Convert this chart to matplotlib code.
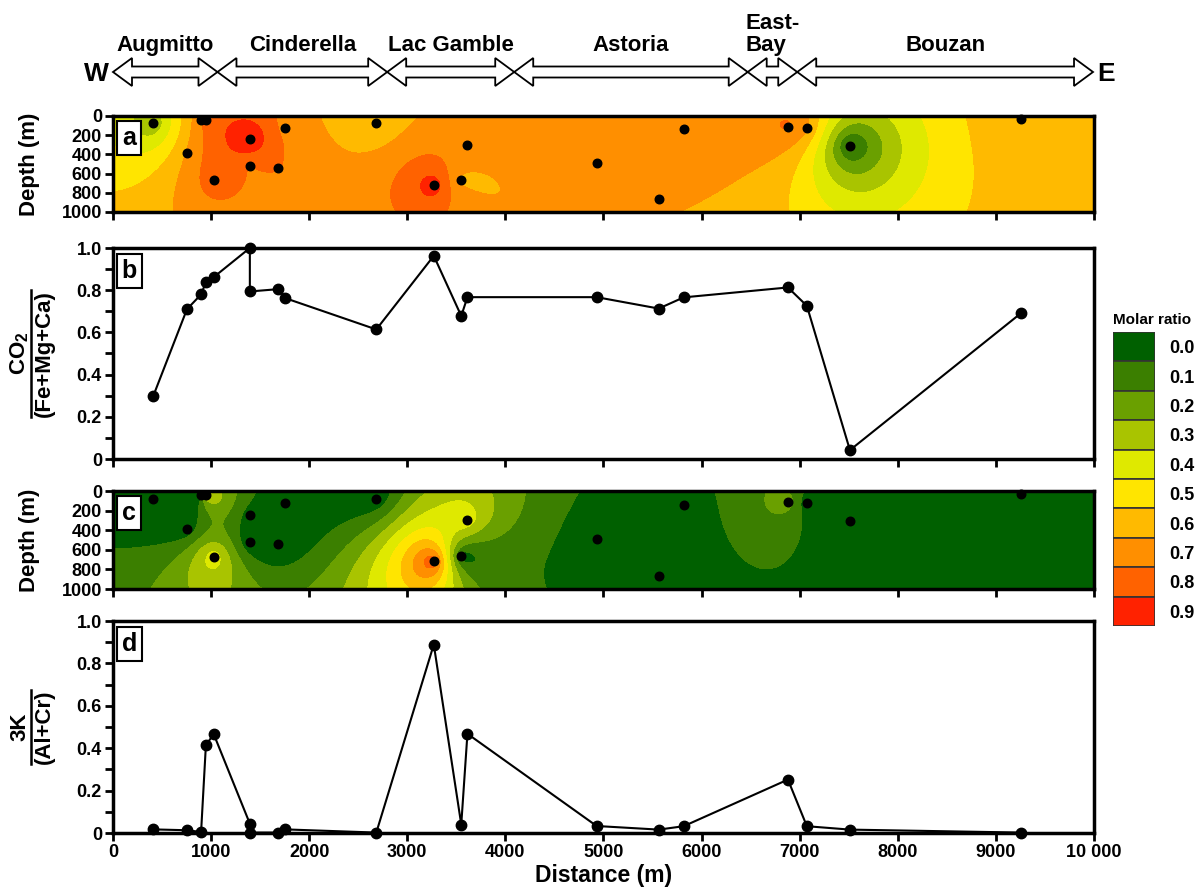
import numpy as np
import matplotlib
matplotlib.use("Agg")
import matplotlib.pyplot as plt
from matplotlib.patches import Polygon
from matplotlib.lines import Line2D

plt.rcParams['font.family'] = ['Liberation Sans', 'DejaVu Sans']
plt.rcParams['font.weight'] = 'bold'
plt.rcParams['mathtext.fontset'] = 'custom'
plt.rcParams['mathtext.rm'] = 'Liberation Sans:bold'
plt.rcParams['mathtext.bf'] = 'Liberation Sans:bold'

# samples along the W-E section
dist = [410, 754, 898, 947, 1027, 1395, 1395, 1685, 1758, 2684,
        3270, 3550, 3613, 4930, 5563, 5817, 6880, 7073, 7512, 9258]
depth = [78, 383, 44, 44, 671, 244, 525, 542, 125, 78,
         719, 668, 298, 485, 869, 138, 110, 121, 310, 34]
co2_ratio = [0.298, 0.710, 0.780, 0.838, 0.862, 1.000, 0.794, 0.805, 0.762, 0.614,
             0.963, 0.678, 0.767, 0.767, 0.713, 0.766, 0.813, 0.726, 0.042, 0.692]
k_ratio = [0.017, 0.013, 0.005, 0.415, 0.466, 0.044, 0.002, 0.002, 0.017, 0.002,
           0.889, 0.040, 0.468, 0.033, 0.016, 0.032, 0.252, 0.032, 0.016, 0.002]

# deposits along the section
zone_names = ['Augmitto', 'Cinderella', 'Lac Gamble', 'Astoria', 'East-\nBay', 'Bouzan']
zone_edges = [0, 1065, 2795, 4090, 6470, 6975, 9990]

levels = [0.0, 0.1, 0.2, 0.3, 0.4, 0.5, 0.6, 0.7, 0.8, 0.9, 1.0]
level_labels = ['0.0', '0.1', '0.2', '0.3', '0.4', '0.5', '0.6', '0.7', '0.8', '0.9']
level_colors = ['#006000', '#3b7f00', '#6aa000', '#a9c400', '#dfe900',
                '#ffe500', '#ffba00', '#ff8f00', '#ff6200', '#ff2200']

xticks = [0, 1000, 2000, 3000, 4000, 5000, 6000, 7000, 8000, 9000, 10000]
xtick_labels = ['0', '1000', '2000', '3000', '4000', '5000', '6000', '7000', '8000', '9000', '10 000']
depth_ticks = [0, 200, 400, 600, 800, 1000]
ratio_ticks = [0, 0.2, 0.4, 0.6, 0.8, 1.0]
ratio_labels = ['0', '0.2', '0.4', '0.6', '0.8', '1.0']


def krige(px, py, pv, gx, gy, rng):
    # ordinary kriging, exponential variogram, no nugget
    px, py, pv = np.asarray(px, float), np.asarray(py, float), np.asarray(pv, float)
    vario = lambda h: 1 - np.exp(-h / rng)
    n = len(pv)
    d = np.hypot(px[:, None] - px[None, :], py[:, None] - py[None, :])
    A = np.zeros((n + 1, n + 1))
    A[:n, :n] = vario(d)
    A[:n, n] = 1
    A[n, :n] = 1
    sol = np.linalg.solve(A, np.append(pv, 0))
    dg = np.hypot(gx[..., None] - px, gy[..., None] - py)
    return vario(dg) @ sol[:n] + sol[n]


fig = plt.figure(figsize=(11.98, 8.88), dpi=100)
W, H = 1198, 888
x0, x1 = 113, 1094


def add_ax(top, bottom):
    return fig.add_axes([x0 / W, 1 - bottom / H, (x1 - x0) / W, (bottom - top) / H])


ax_a = add_ax(116, 212)
ax_b = add_ax(248, 459)
ax_c = add_ax(491, 589)
ax_d = add_ax(621, 833)

gx, gy = np.meshgrid(np.linspace(0, 10000, 600), np.linspace(0, 1000, 90))

for ax, vals, rng in [(ax_a, co2_ratio, 650), (ax_c, k_ratio, 1500)]:
    grid = np.clip(krige(dist, depth, vals, gx, gy, rng), 0, 0.9999)
    ax.contourf(gx, gy, grid, levels=levels, colors=level_colors)
    ax.scatter(dist, depth, s=38, color='black', zorder=3, clip_on=False)
    ax.set_ylim(1000, 0)
    ax.set_yticks(depth_ticks)
    ax.set_ylabel('Depth (m)', fontsize=16, fontweight='bold')
    ax.yaxis.set_label_coords(-0.074, 0.5)

for ax, vals in [(ax_b, co2_ratio), (ax_d, k_ratio)]:
    ax.plot(dist, vals, color='black', lw=1.5, marker='o', ms=7.5, clip_on=False, zorder=3)
    ax.set_ylim(0, 1)
    ax.set_yticks(ratio_ticks)
    ax.set_yticklabels(ratio_labels)
    ax.set_yticks(np.arange(0.1, 1.0, 0.2), minor=True)

for ax, tag in zip([ax_a, ax_b, ax_c, ax_d], 'abcd'):
    ax.set_xlim(0, 10000)
    ax.set_xticks(xticks)
    ax.set_xticklabels(xtick_labels if tag == 'd' else [])
    ax.tick_params(which='both', direction='out', length=6, width=2, labelsize=13, pad=2)
    for lab in ax.get_yticklabels() + ax.get_xticklabels():
        lab.set_fontweight('bold')
    for sp in ax.spines.values():
        sp.set_linewidth(2.5)
    ax.text(0.009, 0.9 if tag in 'ac' else 0.95, tag, transform=ax.transAxes, fontsize=18,
            fontweight='bold', va='top', ha='left', zorder=5,
            bbox=dict(boxstyle='square,pad=0.2', fc='white', ec='black', lw=1.5))

ax_d.set_xlabel('Distance (m)', fontsize=16.5, fontweight='bold', labelpad=2)

# stacked ratio labels for the line panels
fig.canvas.draw()
for ax, num, den in [(ax_b, r'CO$_{\mathbf{2}}$', '(Fe+Mg+Ca)'), (ax_d, '3K', '(Al+Cr)')]:
    ax.text(-0.095, 0.5, num, transform=ax.transAxes, rotation=90, fontsize=16,
            fontweight='bold', ha='center', va='center')
    t = ax.text(-0.07, 0.5, den, transform=ax.transAxes, rotation=90, fontsize=16,
                fontweight='bold', ha='center', va='center')
    bb = t.get_window_extent(renderer=fig.canvas.get_renderer())
    xb = bb.x0 - 3
    fig.add_artist(Line2D([xb / W, xb / W], [bb.y0 / H, bb.y1 / H], color='black', lw=1.8))

# deposit arrows along the top
ax_top = fig.add_axes([x0 / W, 1 - 100 / H, (x1 - x0) / W, 100 / H])
ax_top.set_xlim(0, 10000)
ax_top.set_ylim(100, 0)
ax_top.axis('off')
px_per_m = (x1 - x0) / 10000
head = 19 / px_per_m
for name, a, b in zip(zone_names, zone_edges[:-1], zone_edges[1:]):
    yc, hs, hh = 72, 5.5, 14
    pts = [(a, yc), (a + head, yc - hh), (a + head, yc - hs), (b - head, yc - hs),
           (b - head, yc - hh), (b, yc), (b - head, yc + hh), (b - head, yc + hs),
           (a + head, yc + hs), (a + head, yc + hh)]
    ax_top.add_patch(Polygon(pts, closed=True, fc='white', ec='black', lw=1.3, clip_on=False))
    ax_top.text((a + b) / 2, 56, name, ha='center', va='bottom', fontsize=16,
                fontweight='bold', multialignment='left', linespacing=1.05)
ax_top.text(-40, 74, 'W', ha='right', va='center', fontsize=19, fontweight='bold')
ax_top.text(10030, 74, 'E', ha='left', va='center', fontsize=19, fontweight='bold')

# molar ratio key
ax_k = fig.add_axes([1113 / W, 1 - 626 / H, 42 / W, 294 / H])
ax_k.barh(range(len(level_labels)), [1] * len(level_labels), height=1, left=0,
          color=level_colors, edgecolor='#333333', lw=1.2)
ax_k.set_xlim(0, 1)
ax_k.set_ylim(len(level_labels) - 0.5, -0.5)
ax_k.set_xticks([])
ax_k.set_yticks(range(len(level_labels)))
ax_k.set_yticklabels(level_labels)
ax_k.yaxis.tick_right()
ax_k.tick_params(length=0, labelsize=13, pad=10)
for lab in ax_k.get_yticklabels():
    lab.set_fontweight('bold')
for sp in ax_k.spines.values():
    sp.set_visible(False)
ax_k.set_title('Molar ratio', fontsize=11, fontweight='bold', pad=6, x=0.92)

fig.savefig('out.png', dpi=100)
